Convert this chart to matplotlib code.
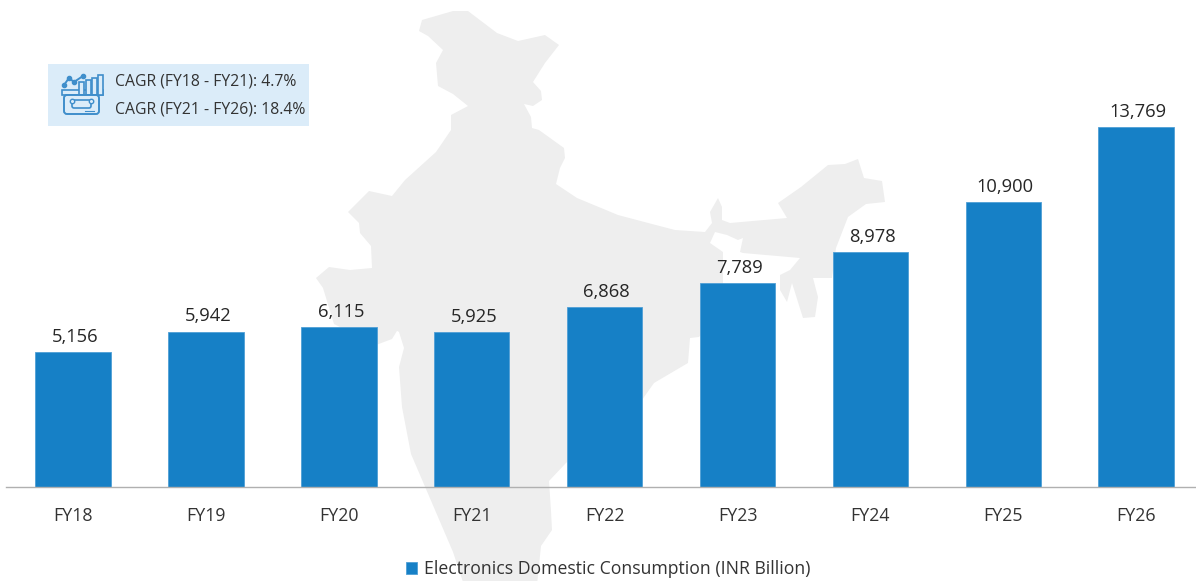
import matplotlib
matplotlib.use('Agg')
import matplotlib.pyplot as plt
from matplotlib.patches import Polygon, Rectangle, FancyBboxPatch

W, H = 1196, 581

# datos
categorias = ['FY18', 'FY19', 'FY20', 'FY21', 'FY22', 'FY23', 'FY24', 'FY25', 'FY26']
consumo = [5156, 5942, 6115, 5925, 6868, 7789, 8978, 10900, 13769]
cagr_textos = ['CAGR (FY18 - FY21): 4.7%', 'CAGR (FY21 - FY26): 18.4%']
leyenda = 'Electronics Domestic Consumption (INR Billion)'

# silueta del mapa de fondo, en pixeles de la figura
mapa_x = [419, 422, 453, 468, 497, 518, 545, 559, 545, 533, 541, 542, 533, 524, 531, 532, 539, 564, 565, 560, 556,
          577, 618, 652, 675, 705, 712, 710, 718, 722, 722, 730, 787, 778, 801, 828, 845, 858, 864, 882, 885, 866,
          848, 836, 832, 813, 818, 815, 803, 792, 787, 780, 780, 790, 800, 743, 740, 743, 738, 727, 715, 710, 723,
          723, 715, 699, 690, 688, 654, 642, 566, 549, 551, 552, 541, 537,
          464, 453, 426, 411, 402, 399, 404, 399, 394, 396, 405, 392, 376, 334, 323, 316, 329, 350, 372, 371, 360,
          359, 348, 369, 392, 405, 436, 451, 451, 468, 453, 438, 436, 443, 428]
mapa_y = [31, 20, 11, 11, 33, 41, 35, 45, 63, 82, 91, 100, 106, 104, 117, 128, 130, 148, 158, 168, 184,
          198, 215, 224, 230, 232, 223, 212, 198, 207, 220, 223, 218, 203, 187, 165, 164, 159, 178, 181, 202, 204,
          217, 248, 278, 278, 297, 317, 318, 283, 302, 290, 275, 270, 258, 253, 252, 238, 240, 235, 232, 243, 252,
          283, 320, 337, 338, 363, 383, 400, 463, 481, 511, 530, 546, 585,
          585, 552, 489, 454, 407, 367, 348, 332, 329, 317, 318, 339, 345, 324, 288, 278, 267, 270, 268, 246, 233,
          223, 212, 191, 196, 180, 152, 130, 115, 106, 94, 86, 63, 50, 36]

# icono del recuadro, en pixeles
icono_barras_x = [79, 86, 92, 98]
icono_barras_top = [82, 80, 78, 75]
icono_linea_x = [64, 69, 74, 83]
icono_linea_y = [85, 78, 82, 76]

fig = plt.figure(figsize=(W / 100, H / 100), dpi=100)
plt.rcParams['font.family'] = ['Open Sans', 'DejaVu Sans']

# capa de fondo en pixeles (mapa y recuadro)
fondo = fig.add_axes([0, 0, 1, 1], zorder=0)
fondo.set_xlim(0, W)
fondo.set_ylim(H, 0)
fondo.axis('off')
fondo.add_patch(Polygon(list(zip(mapa_x, mapa_y)), closed=True, fc='#eeeeee', ec='none'))

# recuadro CAGR
fondo.add_patch(Rectangle((48, 64), 261, 61.5, fc='#dbecf9', ec='none'))
fondo.text(115, 82, cagr_textos[0], fontsize=11.3, color='#333333', va='center', ha='left')
fondo.text(115, 109, cagr_textos[1], fontsize=11.3, color='#333333', va='center', ha='left')

# icono
azul = '#3f8ecb'
fondo.add_patch(Rectangle((62, 90), 41, 5, fc='#dbecf9', ec=azul, lw=1.2))
for xb, yb in zip(icono_barras_x, icono_barras_top):
    fondo.add_patch(Rectangle((xb, yb), 5, 95 - yb, fc='#dbecf9', ec=azul, lw=1.2))
fondo.plot(icono_linea_x, icono_linea_y, color=azul, lw=1.4, marker='o', ms=3)
fondo.add_patch(FancyBboxPatch((64, 95), 35, 19, boxstyle='round,pad=0,rounding_size=3', fc='#dbecf9', ec=azul, lw=1.4))
fondo.add_patch(FancyBboxPatch((72, 100), 19, 8, boxstyle='round,pad=0,rounding_size=2', fc='none', ec=azul, lw=1.2))
fondo.plot([72, 91], [101, 101], ls='none', marker='o', ms=3.2, mfc='#dbecf9', mec=azul)
fondo.plot([85, 94], [111, 111], color=azul, lw=0.8)

# barras
ax = fig.add_axes([6 / W, (H - 487) / H, (W - 6) / W, 487 / H], zorder=1)
ax.patch.set_alpha(0)
paso = 132.9
ax.set_xlim((6 - 73) / paso, (W - 73) / paso)
ax.set_ylim(0, 487 / (360 / 13769))

pos = list(range(len(categorias)))
barras = ax.bar(pos, consumo, width=75.5 / paso, color='#1680c6', edgecolor='#4f9fd6', linewidth=0.6,
                label=leyenda, zorder=2)
for x, v in zip(pos, consumo):
    ax.annotate(f'{v:,}', (x, v), xytext=(1.5, 4.5), textcoords='offset points', ha='center', va='bottom',
                fontsize=13.2, color='#262626')

ax.set_xticks(pos)
ax.set_xticklabels(categorias, fontsize=12.8, color='#333333')
ax.tick_params(axis='x', length=0, pad=14.3)
ax.set_yticks([])
for lado in ['top', 'left', 'right']:
    ax.spines[lado].set_visible(False)
ax.spines['bottom'].set_color('#b0b0b0')
ax.spines['bottom'].set_linewidth(1)

fig.legend(loc='lower center', bbox_to_anchor=(608 / W, -0.023), frameon=False, fontsize=12.7,
           handlelength=0.65, handleheight=0.65, handletextpad=0.4, labelcolor='#333333')

plt.savefig('out.png', dpi=100)
